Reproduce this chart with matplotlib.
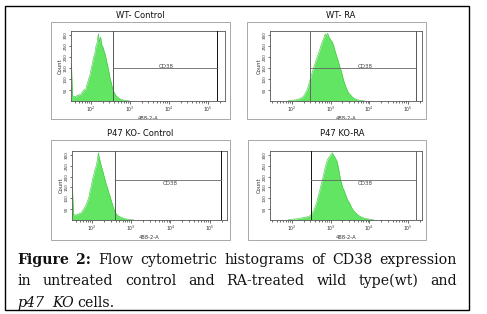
#!/usr/bin/env python3
# Flow cytometry 2x2 histogram figure (CD38, WT / p47 KO, control / RA)
# - fixed pixel layout, 487x314 output
# - justified serif caption below panels

import numpy as np
import matplotlib.pyplot as plt
from matplotlib.patches import Rectangle
from matplotlib.ticker import FixedLocator, NullFormatter

W, H = 487, 314

# ===================== DATA =====================
PANEL_TITLES = ["WT- Control", "WT- RA", "P47 KO- Control", "P47 KO-RA"]
GATE_LABEL = "CD38"
X_LABEL = "488-2-A"
Y_LABEL = "Count"
X_DECADES = [2, 3, 4, 5]
Y_TICKS = [50, 100, 150, 200, 250, 300]

BIN_STEP = 0.03   # bin width in log10 units

WT_CTRL_START = 1.50
WT_CTRL_COUNTS = [170, 25, 18, 22, 15, 28, 24, 30, 26, 40, 45, 52, 48, 70, 85,
                  105, 120, 150, 170, 200, 215, 250, 265, 305, 270, 290, 255,
                  245, 225, 210, 185, 160, 135, 105, 85, 62, 45, 35, 26, 20, 15,
                  12, 9, 7, 5, 4, 3, 2, 1, 1, 0]

WT_RA_START = 1.90
WT_RA_COUNTS = [2, 2, 3, 3, 4, 4, 5, 6, 7, 9, 11, 13, 16, 20, 28, 38, 48, 62,
                80, 100, 118, 135, 152, 168, 185, 200, 215, 230, 248, 262, 278,
                290, 305, 296, 308, 292, 284, 275, 268, 255, 235, 218, 200, 185,
                165, 148, 132, 110, 90, 75, 60, 48, 38, 32, 26, 20, 15, 12, 9,
                7, 5, 4, 3, 2, 1, 1, 0]

KO_CTRL_START = 1.50
KO_CTRL_COUNTS = [155, 22, 25, 20, 28, 24, 32, 28, 38, 45, 55, 62, 75, 90, 105,
                  135, 155, 185, 205, 230, 245, 270, 310, 285, 260, 240, 222,
                  200, 180, 160, 145, 125, 110, 90, 72, 55, 40, 30, 24, 20, 16,
                  13, 11, 9, 7, 6, 5, 4, 3, 2, 2, 1, 0]

KO_RA_START = 1.90
KO_RA_COUNTS = [2, 2, 3, 3, 4, 4, 5, 5, 6, 7, 8, 9, 10, 11, 12, 13, 14, 16, 18,
                20, 26, 34, 45, 58, 72, 90, 112, 132, 155, 175, 198, 220, 245,
                262, 280, 288, 296, 302, 310, 300, 292, 282, 272, 248, 220, 190,
                168, 150, 138, 125, 110, 95, 85, 78, 65, 55, 46, 40, 34, 28, 24,
                20, 17, 14, 12, 10, 8, 7, 6, 5, 4, 3, 2, 1, 0]

# gate boundaries (log10 of fluorescence)
GATES = [(2.56, 5.23), (2.46, 5.21), (2.59, 5.28), (2.48, 5.21)]

CAPTION_LINE1 = [("Figure", "bold"), ("2:", "bold"), ("Flow", None),
                 ("cytometric", None), ("histograms", None), ("of", None),
                 ("CD38", None), ("expression", None)]
CAPTION_LINE2 = ["in", "untreated", "control", "and", "RA-treated", "wild",
                 "type(wt)", "and"]
CAPTION_LINE3 = [("p47", "italic"), ("KO", "italic"), ("cells.", None)]

# ===================== LAYOUT (pixels) =====================
PANELS = [
    # axes box, outer box, title pos, xlim(log), hline frac, label below?, gate colours
    dict(ax=(71, 31, 225, 101), box=(51, 22, 230, 119), title=(140, 15),
         xlim=(1.49, 5.44), hfrac=0.47, below=False, gc=("#555555", "#111111")),
    dict(ax=(270, 31, 422, 101), box=(247, 22, 426, 119), title=(341, 15),
         xlim=(1.43, 5.36), hfrac=0.47, below=False, gc=("#666666", "#555555")),
    dict(ax=(72, 151, 227, 220), box=(51, 140, 230, 240), title=(140, 134),
         xlim=(1.49, 5.44), hfrac=0.58, below=True, gc=("#555555", "#111111")),
    dict(ax=(270, 151, 422, 220), box=(248, 140, 426, 240), title=(342, 134),
         xlim=(1.43, 5.36), hfrac=0.58, below=True, gc=("#111111", "#666666")),
]

FILL = "#62e562"
EDGE = "#3fc43f"
CAPTION_FONT = "DejaVu Serif"
CAPTION_SIZE = 10.2


def px_rect(x0, y0, x1, y1):
    return [x0 / W, 1 - y1 / H, (x1 - x0) / W, (y1 - y0) / H]


def draw_panel(fig, spec, title, start, counts, gate):
    # light outer frame around the panel
    bx = px_rect(*spec["box"])
    fig.patches.append(Rectangle((bx[0], bx[1]), bx[2], bx[3], transform=fig.transFigure,
                                 fill=False, ec="#9a9a9a", lw=0.6))
    tx, ty = spec["title"]
    fig.text(tx / W, 1 - ty / H, title, ha="center", va="center", fontsize=6,
             color="#111111")

    ax = fig.add_axes(px_rect(*spec["ax"]))
    counts = np.asarray(counts, dtype=float)
    logx = start + BIN_STEP * np.arange(len(counts))
    x = 10 ** logx
    ax.fill_between(x, 0, counts, color=FILL, lw=0, zorder=2)
    ax.plot(x, counts, color=EDGE, lw=0.4, zorder=2)

    ax.set_xscale("log")
    ax.set_xlim(10 ** spec["xlim"][0], 10 ** spec["xlim"][1])
    ax.set_ylim(0, 318)

    # gate: two verticals + horizontal bar between them
    g0, g1 = 10 ** gate[0], 10 ** gate[1]
    ax.axvline(g0, color=spec["gc"][0], lw=0.7, zorder=3)
    ax.axvline(g1, color=spec["gc"][1], lw=0.7, zorder=3)
    hy = spec["hfrac"] * 318
    ax.plot([g0, g1], [hy, hy], color="#666666", lw=0.6, zorder=3)
    lx = 10 ** ((gate[0] + gate[1]) / 2 + 0.05)
    dy = -14 if spec["below"] else 9
    ax.text(lx, hy + dy, GATE_LABEL, fontsize=4, color="#444444", ha="center",
            va="center", zorder=4)

    ax.xaxis.set_major_locator(FixedLocator([10.0 ** d for d in X_DECADES]))
    ax.set_xticklabels([rf"$10^{{{d}}}$" for d in X_DECADES])
    minors = [m * 10.0 ** d for d in range(1, 6) for m in range(2, 10)]
    ax.xaxis.set_minor_locator(FixedLocator(minors))
    ax.xaxis.set_minor_formatter(NullFormatter())
    ax.set_yticks(Y_TICKS)
    ax.set_yticklabels([str(v) for v in Y_TICKS], rotation=90, va="center")

    ax.tick_params(axis="x", which="major", length=2.2, width=0.5, labelsize=3.3,
                   pad=0.8, colors="#333333")
    ax.tick_params(axis="x", which="minor", length=1.2, width=0.4)
    ax.tick_params(axis="y", length=1.5, width=0.5, labelsize=3.0, pad=0.6,
                   colors="#333333")
    for s in ax.spines.values():
        s.set_linewidth(0.6)
        s.set_color("#555555")
    ax.set_xlabel(X_LABEL, fontsize=3.8, labelpad=1.2, color="#333333")
    ax.set_ylabel(Y_LABEL, fontsize=3.8, labelpad=1.0, color="#333333")
    return ax


def place_words(fig, r, words, y, x0, x1=None, gap=None, size=CAPTION_SIZE):
    # words: list of (text, fontweight/style); justified between x0..x1 if x1 given
    objs = []
    for txt, sty in words:
        kw = {}
        if sty == "bold":
            kw["fontweight"] = "bold"
        elif sty == "italic":
            kw["fontstyle"] = "italic"
        t = fig.text(0, 1 - y / H, txt, fontsize=size, family=CAPTION_FONT,
                     va="baseline", ha="left", color="#111111", **kw)
        objs.append(t)
    widths = [t.get_window_extent(r).width for t in objs]
    if x1 is not None:
        gap = (x1 - x0 - sum(widths)) / (len(objs) - 1)
    x = x0
    for i, (t, w) in enumerate(zip(objs, widths)):
        t.set_x(x / W)
        g = gap[i] if isinstance(gap, (list, tuple)) else gap
        x += w + (g if g is not None else 0)


def main():
    fig = plt.figure(figsize=(W / 100, H / 100), dpi=100)
    fig.patch.set_facecolor("white")

    # black frame around the whole figure
    fr = px_rect(5, 6, 469, 310)
    fig.patches.append(Rectangle((fr[0], fr[1]), fr[2], fr[3], transform=fig.transFigure,
                                 fill=False, ec="black", lw=1.0))

    data = [(WT_CTRL_START, WT_CTRL_COUNTS), (WT_RA_START, WT_RA_COUNTS),
            (KO_CTRL_START, KO_CTRL_COUNTS), (KO_RA_START, KO_RA_COUNTS)]
    for spec, title, (st, cts), gate in zip(PANELS, PANEL_TITLES, data, GATES):
        draw_panel(fig, spec, title, st, cts, gate)

    r = fig.canvas.get_renderer()
    place_words(fig, r, CAPTION_LINE1, 264, 17, 457)
    place_words(fig, r, [(w, None) for w in CAPTION_LINE2], 285, 17, 457)
    place_words(fig, r, CAPTION_LINE3, 307, 17, gap=[8, 4, 0])

    fig.savefig("out.png", dpi=100)
    plt.close(fig)


if __name__ == "__main__":
    main()
